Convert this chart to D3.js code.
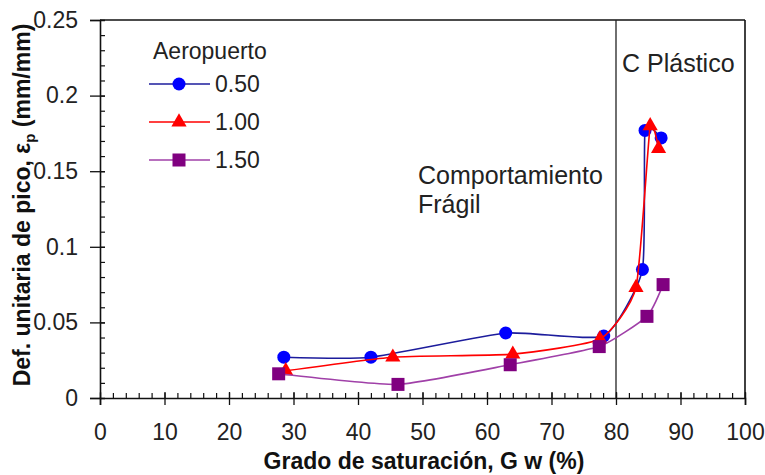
<!DOCTYPE html>
<html>
<head>
<meta charset="utf-8">
<title>Def. unitaria de pico</title>
<style>
  body { margin: 0; background: #fff; }
  text { font-family: "Liberation Sans", Arial, sans-serif; }
</style>
</head>
<body>
<script src="https://d3js.org/d3.v7.min.js"></script>
<script>
// data
var seriesNames = ["0.50", "1.00", "1.50"];
var gw050 = [28.5, 42.0, 62.9, 78.1, 84.1, 84.5, 87.0];
var ep050 = [0.027, 0.027, 0.043, 0.041, 0.085, 0.177, 0.172];
var gw100 = [28.8, 45.4, 64.0, 77.5, 83.1, 85.3, 86.6];
var ep100 = [0.018, 0.027, 0.029, 0.039, 0.073, 0.180, 0.165];
var gw150 = [27.7, 46.2, 63.6, 77.4, 84.8, 87.3];
var ep150 = [0.016, 0.009, 0.022, 0.034, 0.054, 0.075];
var xTicks = [0, 10, 20, 30, 40, 50, 60, 70, 80, 90, 100];
var yTicks = [0, 0.05, 0.1, 0.15, 0.2, 0.25];

var W = 765, H = 475;
var margin = {top: 20, right: 20, bottom: 77, left: 100};
var width = W - margin.left - margin.right,
    height = H - margin.top - margin.bottom;

var x = d3.scaleLinear().domain([0, 100]).range([0, width]);
var y = d3.scaleLinear().domain([0, 0.25]).range([height, 0]);

var svg = d3.select("body").append("svg")
    .attr("width", W).attr("height", H);
var g = svg.append("g")
    .attr("transform", "translate(" + margin.left + "," + margin.top + ")");

var series = [
  {name: seriesNames[0], gw: gw050, ep: ep050, line: "#1c1c9c", fill: "#0000ff", shape: "circle"},
  {name: seriesNames[1], gw: gw100, ep: ep100, line: "#ff0000", fill: "#ff0000", shape: "triangle"},
  {name: seriesNames[2], gw: gw150, ep: ep150, line: "#a040a8", fill: "#800080", shape: "square"}
];

// frame: top and right
g.append("line").attr("x1", 0).attr("x2", width).attr("y1", 0).attr("y2", 0)
  .attr("stroke", "#111").attr("stroke-width", 1.6);
g.append("line").attr("x1", width).attr("x2", width).attr("y1", 0).attr("y2", height)
  .attr("stroke", "#111").attr("stroke-width", 1.6);

// vertical boundary at 80
g.append("line").attr("x1", x(80)).attr("x2", x(80)).attr("y1", 0).attr("y2", height)
  .attr("stroke", "#222").attr("stroke-width", 1.3);

// minor ticks
g.append("g").attr("transform", "translate(0," + height + ")")
  .call(d3.axisBottom(x).tickValues(d3.range(0, 101, 2)).tickSize(-5).tickFormat(""))
  .call(s => s.select(".domain").remove())
  .selectAll("line").attr("stroke", "#111").attr("stroke-width", 1.2);
g.append("g")
  .call(d3.axisLeft(y).tickValues(d3.range(0, 0.251, 0.01)).tickSize(-5).tickFormat(""))
  .call(s => s.select(".domain").remove())
  .selectAll("line").attr("stroke", "#111").attr("stroke-width", 1.2);

// major axes
var xAxis = g.append("g").attr("transform", "translate(0," + height + ")")
  .call(d3.axisBottom(x).tickValues(xTicks).tickSize(7).tickPadding(19).tickFormat(d3.format("d")));
xAxis.select(".domain").attr("stroke", "#111").attr("stroke-width", 1.6);
xAxis.selectAll(".tick line").attr("stroke", "#111").attr("y1", -6).attr("stroke-width", 1.3);
xAxis.selectAll("text").attr("font-size", 23).attr("fill", "#222")
  .style("font-family", "'Liberation Sans', Arial, sans-serif");

var yAxis = g.append("g")
  .call(d3.axisLeft(y).tickValues(yTicks).tickSize(10).tickPadding(12).tickFormat(d => d === 0 ? "0" : String(+d.toFixed(2))));
yAxis.select(".domain").attr("stroke", "#111").attr("stroke-width", 1.6);
yAxis.selectAll(".tick line").attr("stroke", "#111").attr("x1", 5).attr("stroke-width", 1.3);
yAxis.selectAll("text").attr("font-size", 23).attr("fill", "#222")
  .style("font-family", "'Liberation Sans', Arial, sans-serif");

// axis titles
svg.append("text").attr("x", 424).attr("y", 469)
  .attr("text-anchor", "middle").attr("font-size", 23).attr("font-weight", "bold")
  .attr("fill", "#111").text("Grado de saturación, G w (%)");

var yt = svg.append("text").attr("transform", "translate(30,205) rotate(-90)")
  .attr("text-anchor", "middle").attr("font-size", 23).attr("font-weight", "bold").attr("fill", "#111");
yt.append("tspan").text("Def. unitaria de pico, ε");
yt.append("tspan").attr("font-size", 15).attr("dy", 5).text("p");
yt.append("tspan").attr("dy", -5).text(" (mm/mm)");

// series
var line = d3.line()
  .x(d => x(d[0])).y(d => y(d[1]))
  .curve(d3.curveCardinal.tension(0.5));

function marker(sel, shape, fill, cx, cy) {
  if (shape === "circle") {
    sel.append("circle").attr("cx", cx).attr("cy", cy).attr("r", 6.5).attr("fill", fill);
  } else if (shape === "triangle") {
    sel.append("path").attr("d", d3.symbol().type(d3.symbolTriangle).size(100)())
      .attr("transform", "translate(" + cx + "," + cy + ")").attr("fill", fill);
  } else {
    sel.append("rect").attr("x", cx - 6.5).attr("y", cy - 6.5).attr("width", 13).attr("height", 13).attr("fill", fill);
  }
}

series.forEach(function(s) {
  var pts = s.gw.map((v, i) => [v, s.ep[i]]);
  g.append("path").datum(pts).attr("d", line)
    .attr("fill", "none").attr("stroke", s.line).attr("stroke-width", 1.6);
  var mg = g.append("g");
  pts.forEach(p => marker(mg, s.shape, s.fill, x(p[0]), y(p[1])));
});

// annotations
svg.append("text").attr("x", 418).attr("y", 184).attr("font-size", 25).attr("fill", "#222").text("Comportamiento");
svg.append("text").attr("x", 418).attr("y", 213).attr("font-size", 25).attr("fill", "#222").text("Frágil");
svg.append("text").attr("x", 622).attr("y", 72).attr("font-size", 25).attr("fill", "#222").text("C Plástico");

// legend
var lg = svg.append("g");
lg.append("text").attr("x", 153).attr("y", 59).attr("font-size", 23).attr("fill", "#222").text("Aeropuerto");
series.forEach(function(s, i) {
  var ly = 84 + i * 38;
  lg.append("line").attr("x1", 149).attr("x2", 210).attr("y1", ly).attr("y2", ly)
    .attr("stroke", s.line).attr("stroke-width", 1.6);
  marker(lg, s.shape, s.fill, 179, ly);
  lg.append("text").attr("x", 215).attr("y", ly + 8).attr("font-size", 23).attr("fill", "#222").text(s.name);
});
</script>
</body>
</html>
